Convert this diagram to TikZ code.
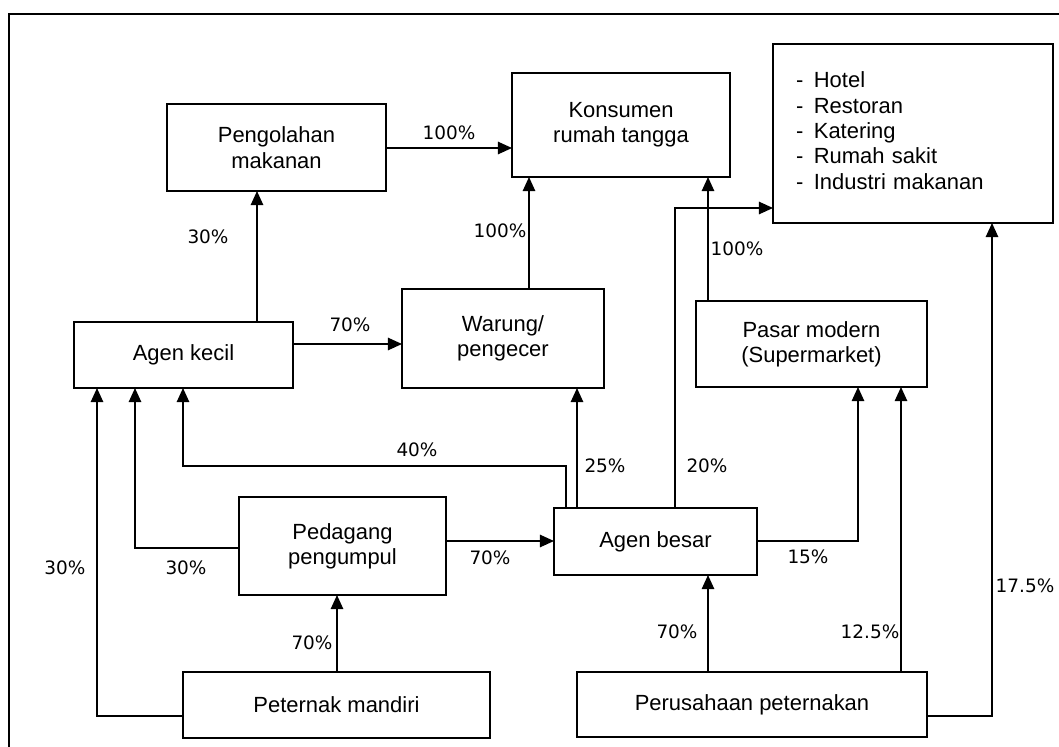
\documentclass[tikz,border=0pt]{standalone}
\usepackage{fontspec}
\setmainfont{Liberation Sans}
\newfontfamily\lblfont{DejaVu Sans}
\usetikzlibrary{arrows.meta}
\tikzset{
  >={Triangle[length=8pt,width=7pt]},
  box/.style={draw, line width=1pt, inner sep=0pt, outer sep=0pt, align=center,
    font=\fontsize{12.5}{14.4}\selectfont},
  lbl/.style={inner sep=0pt, font=\lblfont\fontsize{10.5}{12}\selectfont},
  flow/.style={->, line width=1pt},
}

\begin{document}
\begin{tikzpicture}[x=0.02cm, y=-0.02cm]
      \useasboundingbox (0,0) rectangle (1059,747);
      \draw[line width=1pt] (9,747) -- (9,14) -- (1059,14);

      % boxes
      \node[box, minimum width=4.38cm, minimum height=1.74cm] (peng) at (276.5,147.5) {Pengolahan\\makanan};
      \node[box, minimum width=4.36cm, minimum height=2.08cm] (kons) at (621,125) {Konsumen\\rumah tangga};
      \node[box, minimum width=5.6cm, minimum height=3.58cm, text width=4.68cm, align=left] (hotel) at (913,133.5)
        {\begin{tabular}{@{}l@{\hspace{6pt}}l@{}}
          -&Hotel\\ -&Restoran\\ -&Katering\\ -&Rumah sakit\\ -&Industri makanan
         \end{tabular}};
      \node[box, minimum width=4.38cm, minimum height=1.32cm] (kecil) at (183.5,355) {Agen kecil};
      \node[box, minimum width=4.04cm, minimum height=1.98cm] (warung) at (503,338.5) {Warung/\\pengecer};
      \node[box, minimum width=4.62cm, minimum height=1.72cm] (pasar) at (811.5,344) {Pasar modern\\(Supermarket)};
      \node[box, minimum width=4.14cm, minimum height=1.96cm] (pedagang) at (342.5,546) {Pedagang\\pengumpul};
      \node[box, minimum width=4.06cm, minimum height=1.34cm] (besar) at (655.5,541.5) {Agen besar};
      \node[box, minimum width=6.14cm, minimum height=1.32cm] (peternak) at (336.5,705) {Peternak mandiri};
      \node[box, minimum width=7.0cm, minimum height=1.3cm] (perus) at (752,704.5) {Perusahaan peternakan};

      % columns and rows of the connectors
      \coordinate (xa) at (97,0);
      \coordinate (xb) at (135,0);
      \coordinate (xc) at (183,0);
      \coordinate (xd) at (257,0);
      \coordinate (xe) at (337,0);
      \coordinate (xf) at (529,0);
      \coordinate (xg) at (566,0);
      \coordinate (xh) at (577,0);
      \coordinate (xi) at (675,0);
      \coordinate (xj) at (708,0);
      \coordinate (xk) at (858,0);
      \coordinate (xl) at (901,0);
      \coordinate (xm) at (992,0);
      \coordinate (ya) at (0,148);
      \coordinate (yb) at (0,208);
      \coordinate (yc) at (0,344);
      \coordinate (yd) at (0,466);
      \coordinate (ye) at (0,541);
      \coordinate (yf) at (0,548);
      \coordinate (yg) at (0,716);

      % flows
      \draw[flow] (peng.east |- ya) -- (kons.west |- ya);
      \draw[flow] (kecil.north -| xd) -- (peng.south -| xd);
      \draw[flow] (kecil.east |- yc) -- (warung.west |- yc);
      \draw[flow] (warung.north -| xf) -- (kons.south -| xf);
      \draw[flow] (pasar.north -| xj) -- (kons.south -| xj);
      \draw[flow] (besar.north -| xi) |- (hotel.west |- yb);
      \draw[flow] (besar.north -| xh) -- (warung.south -| xh);
      \draw[flow] (besar.north -| xg) |- (xc |- yd) -- (kecil.south -| xc);
      \draw[flow] (pedagang.west |- yf) -| (kecil.south -| xb);
      \draw[flow] (peternak.west |- yg) -| (kecil.south -| xa);
      \draw[flow] (peternak.north -| xe) -- (pedagang.south -| xe);
      \draw[flow] (pedagang.east |- ye) -- (besar.west |- ye);
      \draw[flow] (besar.east |- ye) -| (pasar.south -| xk);
      \draw[flow] (perus.north -| xj) -- (besar.south -| xj);
      \draw[flow] (perus.north -| xl) -- (pasar.south -| xl);
      \draw[flow] (perus.east |- yg) -| (hotel.south -| xm);

      % shares
      \node[lbl] (l1) at (449,133) {100\%};
      \node[lbl] (l2) at (208,237) {30\%};
      \node[lbl] (l3) at (350,325) {70\%};
      \node[lbl] (l4) at (500,231) {100\%};
      \node[lbl] (l5) at (737,249) {100\%};
      \node[lbl] (l6) at (417,450) {40\%};
      \node[lbl] (l7) at (605,466) {25\%};
      \node[lbl] (l8) at (707,466) {20\%};
      \node[lbl] (l9) at (186,568) {30\%};
      \node[lbl] (l10) at (65,568) {30\%};
      \node[lbl] (l11) at (312,643) {70\%};
      \node[lbl] (l12) at (490,558) {70\%};
      \node[lbl] (l13) at (808,557) {15\%};
      \node[lbl] (l14) at (677,632) {70\%};
      \node[lbl] (l15) at (870,632) {12.5\%};
      \node[lbl] (l16) at (1025,586) {17.5\%};
    \end{tikzpicture}
\end{document}
